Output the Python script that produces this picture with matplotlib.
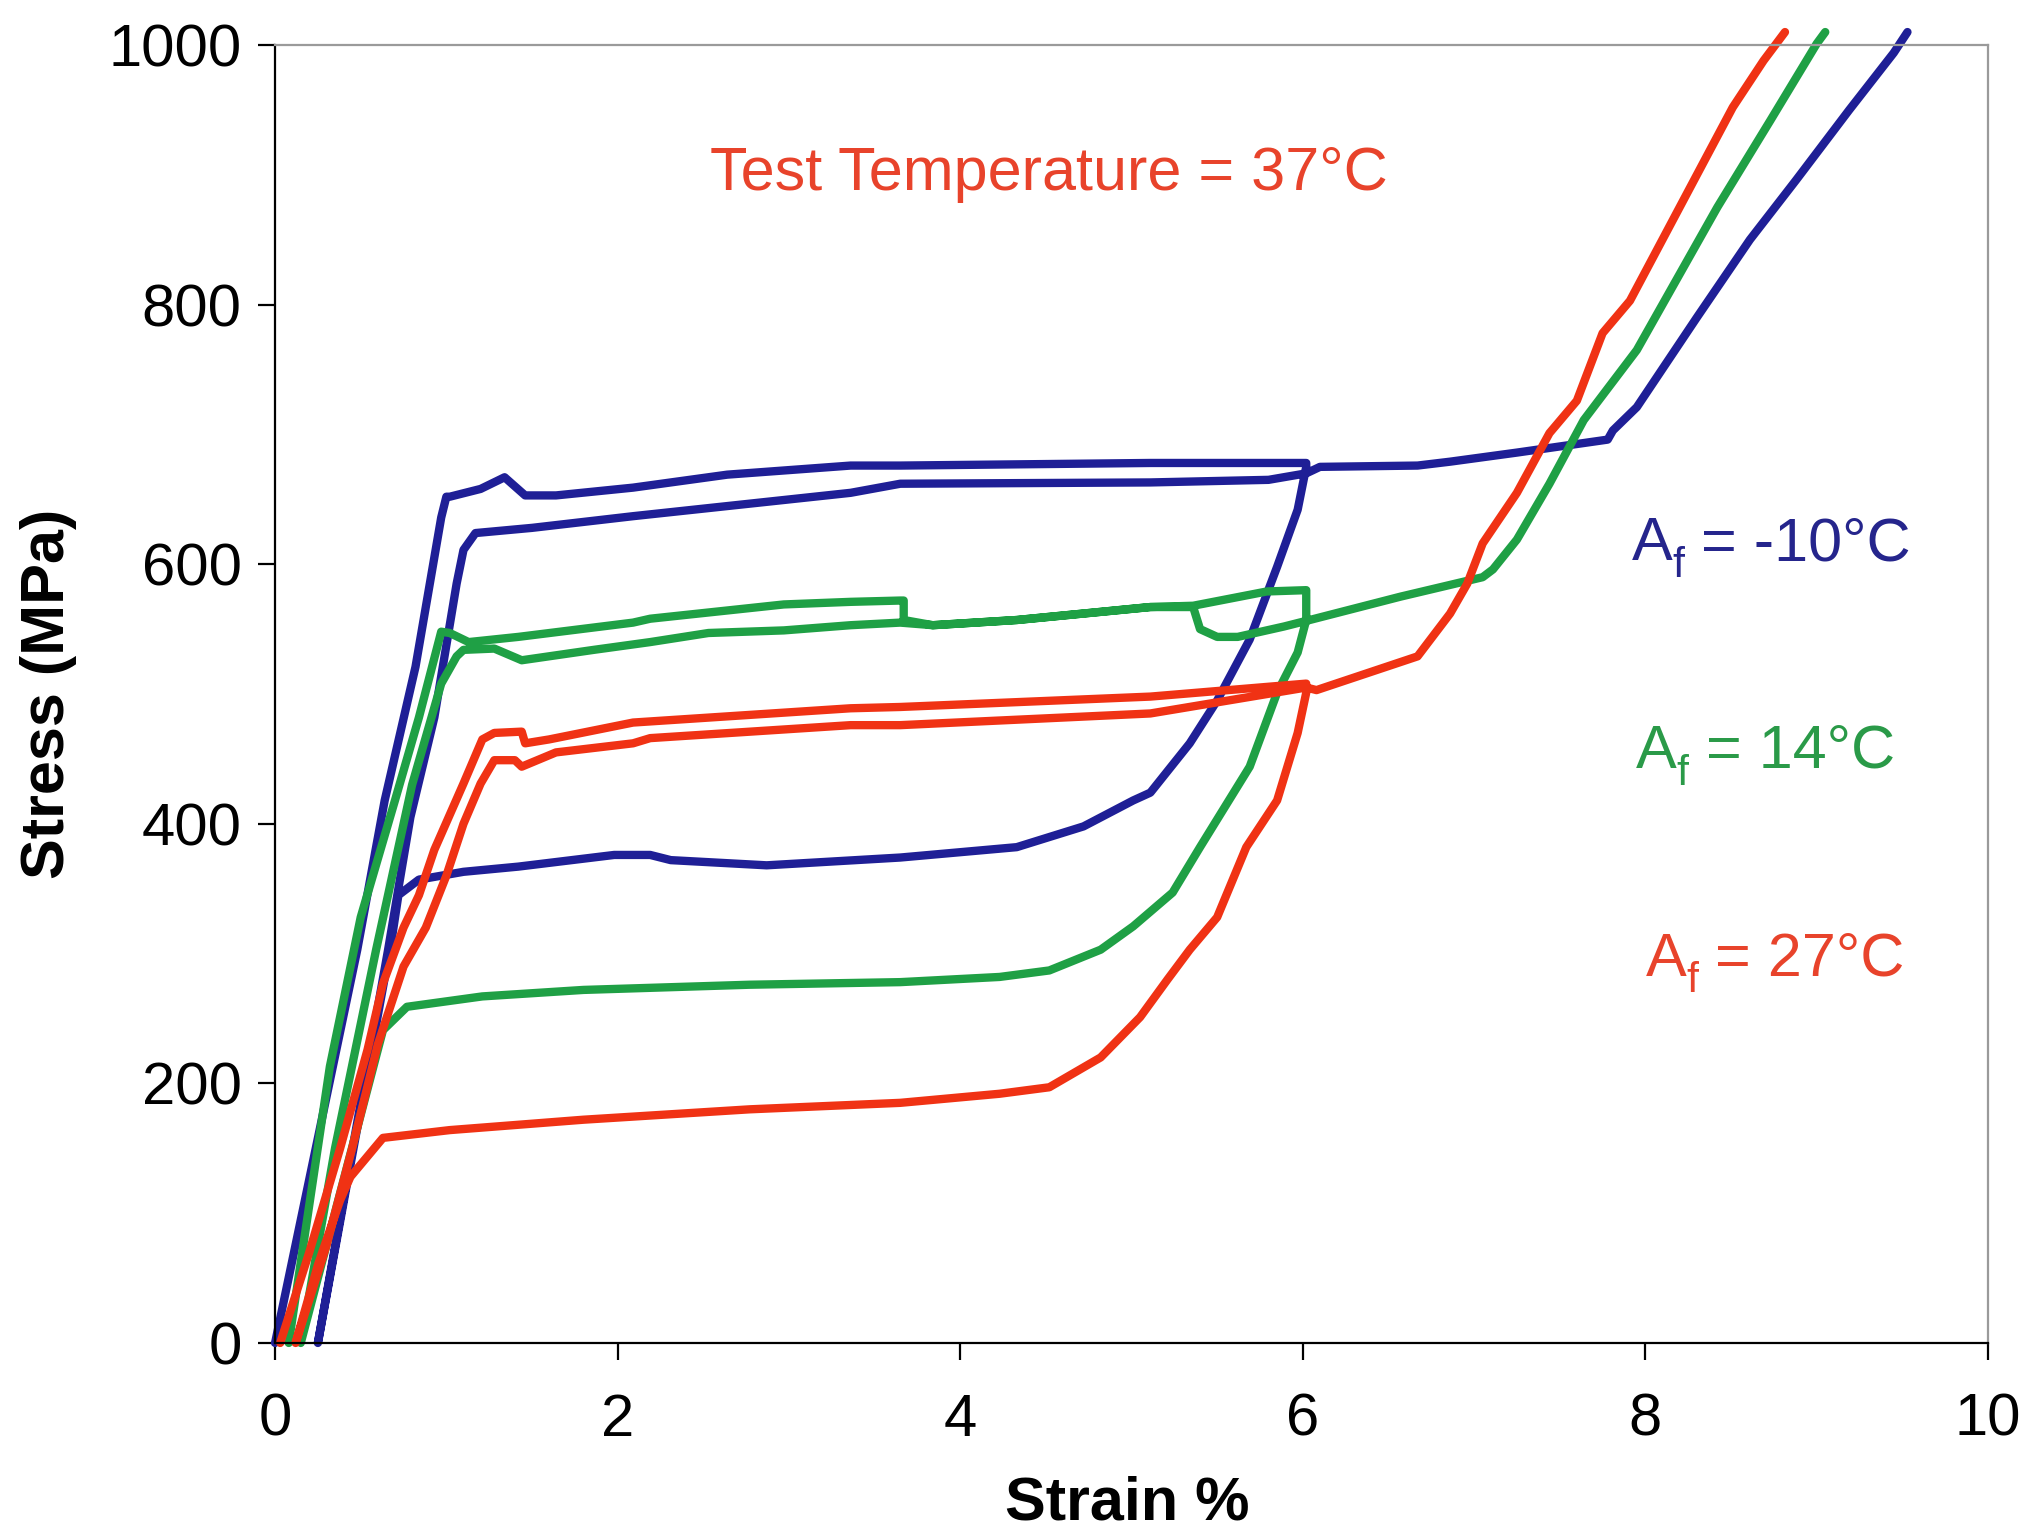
import matplotlib.pyplot as plt

plt.rcParams['font.family'] = ['Liberation Sans', 'DejaVu Sans']

# --- DATOS ---
# Af = -10 C : carga 1 -> descarga -> carga 2 hasta 1000 MPa
blue_strain = [0.00, 0.48, 0.64, 0.82, 0.97, 1.00, 1.02, 1.20, 1.34, 1.46, 1.64, 2.09, 2.64, 3.36, 3.65, 5.11, 6.02,
               6.02, 5.97, 5.85, 5.69, 5.50, 5.34, 5.11, 5.01, 4.72, 4.33, 3.65, 2.87, 2.31, 2.19, 1.98, 1.42, 1.10, 0.84, 0.72, 0.68, 0.25,
               0.50, 0.66, 0.79, 0.93, 1.06, 1.10, 1.17, 1.50, 2.09, 3.36, 3.65, 5.11, 5.80, 6.02, 6.10, 6.67, 6.86, 7.25, 7.78, 7.81, 7.95,
               8.30, 8.61, 8.88, 9.19, 9.45, 9.53]
blue_stress = [0, 303, 418, 521, 636, 652, 652, 658, 667, 653, 653, 659, 669, 676, 676, 678, 678,
               675, 642, 598, 542, 495, 462, 424, 418, 398, 382, 374, 368, 372, 376, 376, 367, 363, 357, 345, 310, 0,
               185, 303, 405, 482, 585, 611, 624, 628, 637, 655, 662, 663, 665, 670, 675, 676, 679, 686, 696, 703, 721,
               790, 850, 896, 950, 994, 1010]

# Af = 14 C
green_strain = [0.08, 0.32, 0.50, 0.70, 0.84, 0.97, 1.02, 1.13, 1.42, 2.09, 2.19, 2.97, 3.36, 3.65, 3.67, 3.67, 3.84, 4.33,
                5.11, 5.36, 5.79, 6.02, 6.02,
                5.97, 5.85, 5.69, 5.40, 5.24, 5.01, 4.82, 4.52, 4.23, 3.65, 2.77, 1.80, 1.21, 0.77, 0.63, 0.15,
                0.35, 0.59, 0.80, 0.97, 1.06, 1.10, 1.28, 1.44, 1.86, 2.19, 2.53, 2.97, 3.36, 3.65, 3.84, 4.33, 5.11, 5.36,
                5.40, 5.50, 5.62, 5.89, 6.04, 6.57, 7.05, 7.11, 7.25, 7.44, 7.64, 7.95, 8.42, 8.73, 9.00, 9.05]
green_stress = [0, 213, 328, 418, 482, 548, 547, 540, 544, 555, 558, 569, 571, 572, 572, 557, 553, 557,
                567, 568, 579, 580, 557,
                532, 501, 444, 382, 347, 321, 303, 287, 282, 278, 276, 272, 267, 259, 241, 0,
                150, 303, 430, 508, 529, 534, 535, 526, 534, 540, 547, 549, 553, 555, 553, 557, 567, 567,
                550, 544, 544, 552, 557, 575, 590, 596, 619, 662, 711, 765, 875, 942, 1001, 1010]

# Af = 27 C
red_strain = [0.03, 0.20, 0.38, 0.54, 0.63, 0.75, 0.84, 0.93, 1.10, 1.21, 1.28, 1.44, 1.46, 1.60, 2.09, 3.36, 3.65, 5.11, 6.02,
              6.02, 5.97, 5.85, 5.67, 5.50, 5.34, 5.21, 5.05, 4.82, 4.52, 4.23, 3.65, 2.77, 1.80, 1.02, 0.63, 0.44, 0.38, 0.25, 0.12,
              0.30, 0.45, 0.60, 0.75, 0.88, 1.00, 1.10, 1.20, 1.28, 1.40, 1.44, 1.64, 2.09, 2.19, 3.36, 3.65, 5.11, 6.02,
              6.08, 6.67, 6.86, 6.96, 7.05, 7.25, 7.44, 7.60, 7.75, 7.91, 8.22, 8.51, 8.69, 8.815]
red_stress = [0, 70, 150, 226, 277, 320, 345, 380, 431, 465, 470, 471, 462, 465, 478, 489, 490, 498, 508,
              501, 470, 418, 382, 328, 303, 280, 251, 220, 197, 192, 185, 180, 172, 164, 158, 128, 110, 60, 0,
              75, 150, 230, 290, 320, 360, 400, 431, 449, 449, 444, 455, 462, 466, 476, 476, 485, 505,
              503, 529, 562, 585, 616, 655, 701, 726, 778, 803, 880, 952, 988, 1010]

curvas = [
    (blue_strain, blue_stress, '#1f1f96'),
    (green_strain, green_stress, '#1fa045'),
    (red_strain, red_stress, '#f03214'),
]

# posicion (x, y base), texto tras el subindice, color
etiquetas = [
    (7.92, 603, ' = -10°C', '#25258c'),
    (7.945, 443, ' = 14°C', '#2a9a48'),
    (8.0, 283, ' = 27°C', '#e8432b'),
]

# --- GRAFICO ---
fig = plt.figure(figsize=(10.12, 7.66), dpi=200)
ax = fig.add_axes([0.1359, 0.1234, 0.8463, 0.8472])

for xs, ys, c in curvas:
    ax.plot(xs, ys, color=c, lw=3.0, clip_on=False, solid_joinstyle='round', solid_capstyle='round')

ax.text(4.52, 888, 'Test Temperature = 37°C', color='#e8432b', fontsize=22, ha='center', va='baseline')

# A con subindice f, armado a mano para bajar la f como en el original
for x, y, t, c in etiquetas:
    ax.annotate('A', (x, y), color=c, fontsize=22, ha='left', va='baseline')
    ax.annotate('f', (x, y), xytext=(14.7, -6.0), textcoords='offset points',
                color=c, fontsize=15.5, ha='left', va='baseline')
    ax.annotate(t, (x, y), xytext=(19.0, 0), textcoords='offset points',
                color=c, fontsize=22, ha='left', va='baseline')

ax.set_xlim(0, 10)
ax.set_ylim(0, 1000)
ax.set_xticks(range(0, 11, 2))
ax.set_yticks(range(0, 1001, 200))
ax.tick_params(direction='out', length=6, width=0.8, labelsize=21.5, colors='black')
ax.tick_params(axis='x', pad=12)
ax.tick_params(axis='y', pad=6)

for s in ['top', 'right']:
    ax.spines[s].set_color('#9a9a9a')
    ax.spines[s].set_linewidth(0.8)
for s in ['left', 'bottom']:
    ax.spines[s].set_color('black')
    ax.spines[s].set_linewidth(0.8)

fig.text(1127/2024, 1 - 1504/1532, 'Strain %', fontsize=22, fontweight='bold', ha='center', va='center')
fig.text(49/2024, 1 - 694/1532, 'Stress (MPa)', fontsize=22, fontweight='bold', ha='center', va='center',
         rotation=90)

fig.savefig('out.png', dpi=200)
